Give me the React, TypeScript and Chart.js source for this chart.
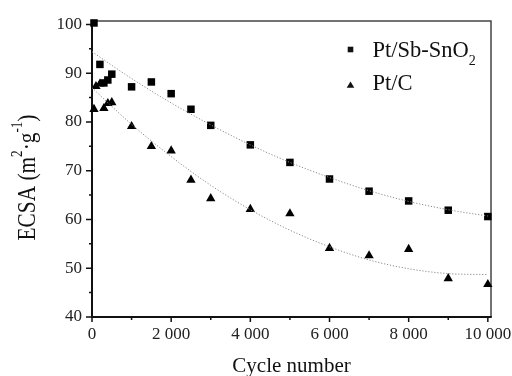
import React, { useEffect, useRef } from "react";
import { Chart, registerables } from "chart.js";

Chart.register(...registerables);

const sbX = [50, 200, 300, 400, 500, 1000, 1500, 2000, 2500, 3000, 4000, 5000, 6000, 7000, 8000, 9000, 10000];
const sbY = [100.3, 91.8, 88.0, 88.6, 89.8, 87.2, 88.2, 85.8, 82.6, 79.3, 75.3, 71.7, 68.3, 65.8, 63.8, 61.9, 60.6];
const ptX = [50, 100, 200, 300, 400, 500, 1000, 1500, 2000, 2500, 3000, 4000, 5000, 6000, 7000, 8000, 9000, 10000];
const ptY = [82.6, 87.3, 87.8, 82.8, 83.8, 84.0, 79.1, 75.0, 74.1, 68.1, 64.3, 62.1, 61.2, 54.1, 52.6, 53.9, 47.9, 46.7];

const fitX = [0, 1000, 2000, 3000, 4000, 5000, 6000, 7000, 8000, 9000, 10000];
const sbFit = [94.4, 88.9, 83.9, 79.4, 75.3, 71.7, 68.6, 65.9, 63.7, 62.0, 60.7];
const ptFit = [87.0, 79.5, 72.9, 67.0, 62.0, 57.8, 54.4, 51.7, 49.9, 48.9, 48.7];

const xTickValues = [0, 2000, 4000, 6000, 8000, 10000];
const yTickValues = [40, 50, 60, 70, 80, 90, 100];
const xMinorValues = [1000, 3000, 5000, 7000, 9000];
const yMinorValues = [45, 55, 65, 75, 85, 95];

const seriesNames = ["Pt/Sb-SnO", "Pt/C"];
const xTitle = "Cycle number";

const SERIF = "'Liberation Serif', 'Times New Roman', serif";

function fmt(v: number): string {
  if (v >= 1000) {
    const th = Math.floor(v / 1000);
    const rest = String(v % 1000).padStart(3, "0");
    return `${th} ${rest}`;
  }
  return String(v);
}

const decor = {
  id: "decor",
  beforeDatasetsDraw(chart: any) {
    const { ctx, chartArea } = chart;
    const { left, right, top, bottom } = chartArea;
    const xs = chart.scales.x;
    const ys = chart.scales.y;
    ctx.save();
    ctx.strokeStyle = "#444";
    ctx.lineWidth = 1.5;
    ctx.beginPath();
    ctx.moveTo(left, top);
    ctx.lineTo(right, top);
    ctx.lineTo(right, bottom);
    ctx.stroke();
    ctx.strokeStyle = "#111";
    ctx.lineWidth = 2;
    ctx.beginPath();
    ctx.moveTo(left, top - 1);
    ctx.lineTo(left, bottom);
    ctx.lineTo(right + 0.75, bottom);
    ctx.stroke();
    ctx.lineWidth = 1.5;
    ctx.beginPath();
    yTickValues.forEach((v) => {
      const y = ys.getPixelForValue(v);
      ctx.moveTo(left, y);
      ctx.lineTo(left - 6, y);
    });
    yMinorValues.forEach((v) => {
      const y = ys.getPixelForValue(v);
      ctx.moveTo(left, y);
      ctx.lineTo(left - 3, y);
    });
    xTickValues.forEach((v) => {
      const x = xs.getPixelForValue(v);
      ctx.moveTo(x, bottom);
      ctx.lineTo(x, bottom + 5);
    });
    xMinorValues.forEach((v) => {
      const x = xs.getPixelForValue(v);
      ctx.moveTo(x, bottom);
      ctx.lineTo(x, bottom + 3);
    });
    ctx.stroke();
    ctx.restore();
  },
  afterDraw(chart: any) {
    const { ctx, chartArea } = chart;
    ctx.save();
    ctx.fillStyle = "#111";
    ctx.textBaseline = "alphabetic";
    ctx.textAlign = "left";

    // Legend
    const lx = 350.5;
    const l1y = 49.5;
    const l2y = 85;
    ctx.fillRect(lx - 2.8, l1y - 2.8, 5.6, 5.6);
    ctx.beginPath();
    ctx.moveTo(lx, l2y - 3.5);
    ctx.lineTo(lx + 3.8, l2y + 2.8);
    ctx.lineTo(lx - 3.8, l2y + 2.8);
    ctx.closePath();
    ctx.fill();
    ctx.font = `22.5px ${SERIF}`;
    const tx = 372.5;
    ctx.fillText(seriesNames[0], tx, 56.5);
    const w0 = ctx.measureText(seriesNames[0]).width;
    ctx.font = `14px ${SERIF}`;
    ctx.fillText("2", tx + w0, 64.5);
    ctx.font = `22.5px ${SERIF}`;
    ctx.fillText(seriesNames[1], tx, 89.5);

    // X title
    ctx.font = `21px ${SERIF}`;
    ctx.textAlign = "center";
    ctx.fillText(xTitle, (chartArea.left + chartArea.right) / 2, 372);

    // Y title with superscripts
    const parts: [string, boolean][] = [
      ["ECSA (m", false],
      ["2", true],
      ["·g", false],
      ["-1", true],
      [")", false],
    ];
    const big = `26px ${SERIF}`;
    const small = `16px ${SERIF}`;
    let total = 0;
    const widths = parts.map(([t, sup]) => {
      ctx.font = sup ? small : big;
      const w = ctx.measureText(t).width;
      total += w;
      return w;
    });
    ctx.translate(35, 177.5);
    ctx.rotate(-Math.PI / 2);
    ctx.scale(0.82, 1);
    ctx.textAlign = "left";
    let cx = -total / 2;
    parts.forEach(([t, sup], i) => {
      ctx.font = sup ? small : big;
      ctx.fillText(t, cx, sup ? -13 : 0);
      cx += widths[i];
    });
    ctx.restore();
  },
};

export default function App() {
  const ref = useRef<HTMLCanvasElement | null>(null);
  useEffect(() => {
    document.body.style.margin = "0";
    const canvas = ref.current!;
    const chart = new Chart(canvas, {
      type: "scatter",
      data: {
        datasets: [
          {
            type: "line",
            data: fitX.map((x, i) => ({ x, y: sbFit[i] })),
            borderColor: "#8a8a8a",
            borderWidth: 1,
            borderDash: [1.2, 1.8],
            pointRadius: 0,
            tension: 0.4,
            cubicInterpolationMode: "monotone",
            fill: false,
          } as any,
          {
            type: "line",
            data: fitX.map((x, i) => ({ x, y: ptFit[i] })),
            borderColor: "#8a8a8a",
            borderWidth: 1,
            borderDash: [1.2, 1.8],
            pointRadius: 0,
            tension: 0.4,
            cubicInterpolationMode: "monotone",
            fill: false,
          } as any,
          {
            label: seriesNames[0],
            data: sbX.map((x, i) => ({ x, y: sbY[i] })),
            pointStyle: "rect",
            pointRadius: 5.3,
            backgroundColor: "#000",
            borderColor: "#000",
            borderWidth: 0,
            clip: false,
          } as any,
          {
            label: seriesNames[1],
            data: ptX.map((x, i) => ({ x, y: ptY[i] })),
            pointStyle: "triangle",
            pointRadius: 5.4,
            backgroundColor: "#000",
            borderColor: "#000",
            borderWidth: 0,
            clip: false,
          } as any,
        ],
      },
      options: {
        animation: false,
        responsive: false,
        maintainAspectRatio: false,
        layout: { padding: { left: 0, top: 21, right: 21, bottom: 0 } },
        plugins: {
          legend: { display: false },
          tooltip: { enabled: false },
        },
        scales: {
          x: {
            type: "linear",
            min: 0,
            max: 10080,
            grid: { display: false },
            border: { display: false },
            afterFit: (s: any) => {
              s.height = 59;
            },
            afterBuildTicks: (s: any) => {
              s.ticks = xTickValues.map((v) => ({ value: v }));
            },
            ticks: {
              autoSkip: false,
              maxRotation: 0,
              padding: -1,
              color: "#222",
              font: { family: SERIF, size: 17 },
              callback: (v: any) => fmt(Number(v)),
            },
          },
          y: {
            type: "linear",
            min: 40,
            max: 100.7,
            grid: { display: false },
            border: { display: false },
            afterFit: (s: any) => {
              s.width = 92;
            },
            afterBuildTicks: (s: any) => {
              s.ticks = yTickValues.map((v) => ({ value: v }));
            },
            ticks: {
              autoSkip: false,
              padding: 2,
              color: "#222",
              font: { family: SERIF, size: 17 },
              callback: (v: any) => String(v),
            },
          },
        },
      } as any,
      plugins: [decor],
    });
    return () => chart.destroy();
  }, []);
  return (
    <div style={{ width: 512, height: 376, background: "#fff" }}>
      <canvas ref={ref} width={512} height={376} style={{ display: "block" }} />
    </div>
  );
}
